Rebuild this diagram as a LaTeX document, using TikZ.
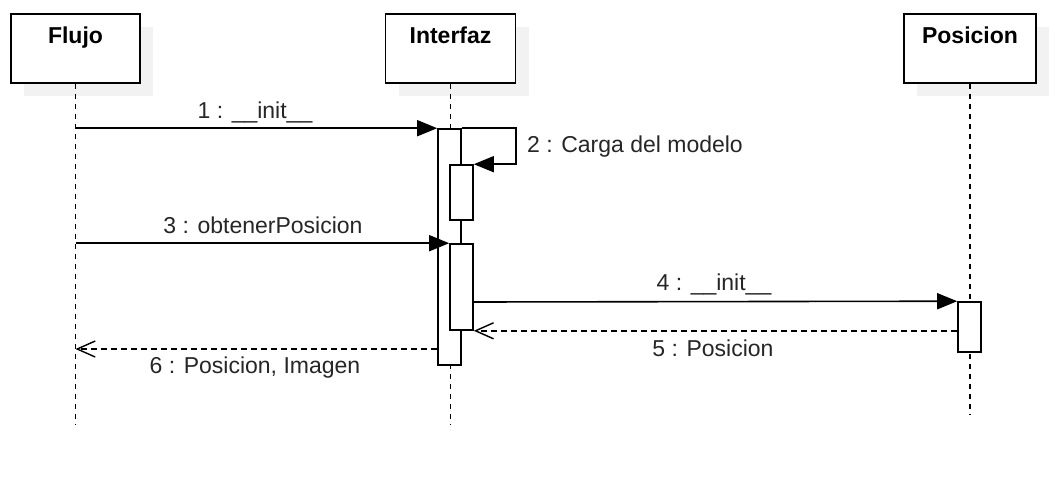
\documentclass[tikz,border=0pt]{standalone}
\usepackage{fontspec}
\setmainfont{Liberation Sans}
\usetikzlibrary{arrows.meta,shadows}
\begin{document}
\begin{tikzpicture}[x=1pt,y=-1pt,
  obj/.style={draw, line width=1.6pt, fill=white, minimum height=69pt, inner sep=0pt,
    drop shadow={shadow xshift=13pt,shadow yshift=-13pt,fill=black!5,opacity=1}},
  ttl/.style={anchor=base, font=\bfseries\fontsize{23}{27}\selectfont, inner sep=0pt},
  lbl/.style={anchor=base, font=\fontsize{23}{27}\selectfont, text=black!85, inner sep=0pt},
  life/.style={line width=1.7pt, dash pattern=on 5pt off 5pt},
  act/.style={draw, line width=1.6pt, fill=white, minimum width=23pt, inner sep=0pt},
  msg/.style={line width=1.6pt, -{Triangle[length=20pt,width=16pt]}},
  ret/.style={line width=1.4pt, dash pattern=on 6pt off 4pt, -{Straight Barb[length=18pt,width=16pt,line width=1.4pt]}}
]
\useasboundingbox (0,0) rectangle (1055,482);
% objects
\node[obj, minimum width=129pt] (flujo) at (75.5,48.5) {};
\node[obj, minimum width=130pt] (interfaz) at (450.5,48.5) {};
\node[obj, minimum width=132pt] (posicion) at (970,48.5) {};
\node[ttl] (tflujo) at ([yshift=-30.5pt]flujo.north) {Flujo};
\node[ttl] (tinterfaz) at ([yshift=-30.5pt]interfaz.north) {Interfaz};
\node[ttl] (tposicion) at ([yshift=-30.5pt]posicion.north) {Posicion};
% lifelines
\coordinate (eflujo) at (75.5,425);
\coordinate (einterfaz) at (450.5,425);
\coordinate (eposicion) at (970,415);
\draw[life] (flujo.south) -- (eflujo);
\draw[life] (interfaz.south) -- (einterfaz);
\draw[life] (posicion.south) -- (eposicion);
% activations
\node[act, minimum height=236pt] (main) at (449.5,247) {};
\node[act, minimum height=55pt] (n1) at (461.5,192.5) {};
\node[act, minimum height=86pt] (n2) at (461.5,287) {};
\node[act, minimum height=50pt] (pa) at (969.5,327) {};
% messages
\draw[msg] (flujo.south |- main.north) -- (main.north west);
\draw[msg] (main.north east) -- ++(54,0) |- (n1.north east);
\draw[msg] (flujo.south |- n2.north) -- (n2.north west);
\coordinate (y4) at (0,302);
\draw[msg] (n2.east |- y4) -- (pa.north west);
\draw[ret] (pa.west |- n2.south) -- (n2.south east);
\coordinate (y6) at (0,349);
\draw[ret] (main.west |- y6) -- (flujo.south |- y6);
% labels
\node[lbl] (l1) at (255,118) {1 : \_\_init\_\_};
\node[lbl, anchor=base west] (l2) at (527,152) {2 : Carga del modelo};
\node[lbl] (l3) at (263,233) {3 : obtenerPosicion};
\node[lbl] (l4) at (714,290) {4 : \_\_init\_\_};
\node[lbl] (l5) at (713,356) {5 : Posicion};
\node[lbl] (l6) at (255,373) {6 : Posicion, Imagen};
\end{tikzpicture}
\end{document}
